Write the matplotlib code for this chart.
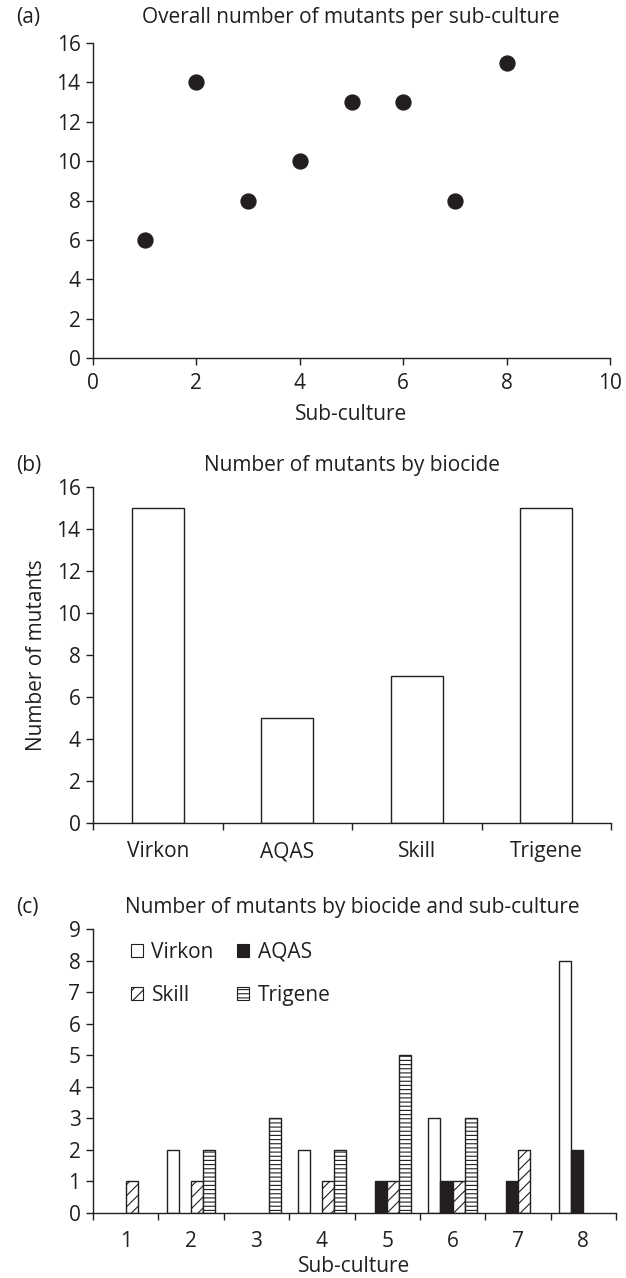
import numpy as np
import matplotlib
matplotlib.use('Agg')
import matplotlib.pyplot as plt
from matplotlib.patches import Patch

plt.rcParams['font.family'] = ['Open Sans', 'DejaVu Sans']
plt.rcParams['font.size'] = 15
plt.rcParams['hatch.linewidth'] = 0.8
INK = '#231f20'

# (a) overall mutants per sub-culture
sub_cultures = [1, 2, 3, 4, 5, 6, 7, 8]
overall_mutants = [6, 14, 8, 10, 13, 13, 8, 15]

# (b) mutants by biocide
biocides = ['Virkon', 'AQAS', 'Skill', 'Trigene']
biocide_totals = [15, 5, 7, 15]

# (c) mutants by biocide and sub-culture
virkon = [0, 2, 0, 2, 0, 3, 0, 8]
aqas = [0, 0, 0, 0, 1, 1, 1, 2]
skill = [1, 1, 0, 1, 1, 1, 2, 0]
trigene = [0, 2, 3, 2, 5, 3, 0, 0]

W, H = 626, 1278
fig = plt.figure(figsize=(W / 100, H / 100), dpi=100)


def px_axes(left, top, right, bottom):
    return fig.add_axes([left / W, 1 - bottom / H, (right - left) / W, (bottom - top) / H])


def style(ax):
    for s in ['top', 'right']:
        ax.spines[s].set_visible(False)
    for s in ['left', 'bottom']:
        ax.spines[s].set_color(INK)
        ax.spines[s].set_linewidth(1.0)
    ax.tick_params(direction='out', length=5, width=1.0, color=INK, labelcolor=INK, pad=4)


# ---- (a)
ax1 = px_axes(93, 43, 610, 358)
style(ax1)
ax1.scatter(sub_cultures, overall_mutants, s=115, color=INK, zorder=3, clip_on=False)
ax1.set_xlim(0, 10)
ax1.set_ylim(0, 16)
ax1.set_xticks(range(0, 11, 2))
ax1.set_yticks(range(0, 17, 2))
ax1.tick_params(axis='x', pad=6)
fig.text(16 / W, 1 - 18 / H, '(a)', ha='left', va='center', color=INK)
fig.text(351 / W, 1 - 18 / H, 'Overall number of mutants per sub-culture', ha='center', va='center', color=INK)
fig.text(351 / W, 1 - 415 / H, 'Sub-culture', ha='center', va='center', color=INK)

# ---- (b)
ax2 = px_axes(93, 487, 611, 823)
style(ax2)
xb = np.arange(len(biocides))
ax2.bar(xb, biocide_totals, width=0.4, facecolor='white', edgecolor=INK, linewidth=1.0)
ax2.set_xlim(-0.5, 3.5)
ax2.set_ylim(0, 16)
ax2.set_yticks(range(0, 17, 2))
ax2.set_xticks(xb)
ax2.set_xticklabels(biocides)
ax2.tick_params(axis='x', which='major', length=0, pad=13)
ax2.set_xticks(np.arange(-0.5, 4, 1), minor=True)
ax2.tick_params(axis='x', which='minor', direction='out', length=5, width=1.0, color=INK)
fig.text(16 / W, 1 - 465 / H, '(b)', ha='left', va='center', color=INK)
fig.text(352 / W, 1 - 465 / H, 'Number of mutants by biocide', ha='center', va='center', color=INK)
fig.text(37 / W, 1 - 655 / H, 'Number of mutants', ha='center', va='center', rotation=90, color=INK)

# ---- (c)
ax3 = px_axes(93, 929, 616, 1213)
style(ax3)
xc = np.array(sub_cultures)
bw = 0.185
series = [
    ('Virkon', virkon, 'white', ''),
    ('AQAS', aqas, INK, ''),
    ('Skill', skill, 'white', '///'),
    ('Trigene', trigene, 'white', '----'),
]
handles = {}
for i, (name, vals, fc, hatch) in enumerate(series):
    vals = np.array(vals)
    keep = vals > 0
    off = (i - 1.5) * bw
    ax3.bar(xc[keep] + off, vals[keep], width=bw, facecolor=fc, edgecolor=INK, hatch=hatch, linewidth=1.0)
    handles[name] = Patch(facecolor=fc, edgecolor=INK, hatch=hatch, linewidth=0.8, label=name)
ax3.set_xlim(0.5, 8.5)
ax3.set_ylim(0, 9)
ax3.set_yticks(range(0, 10))
ax3.set_xticks(xc)
ax3.tick_params(axis='x', which='major', length=0, pad=13)
ax3.set_xticks(np.arange(0.5, 9, 1), minor=True)
ax3.tick_params(axis='x', which='minor', direction='out', length=5, width=1.0, color=INK)
# ncol=2 fills column-wise, so order gives Virkon/AQAS on row one
leg = ax3.legend(handles=[handles['Virkon'], handles['Skill'], handles['AQAS'], handles['Trigene']],
                 ncol=2, frameon=False, loc='upper left', borderpad=0, borderaxespad=0,
                 bbox_to_anchor=(0.072, 0.955), handlelength=0.6, handleheight=0.6,
                 handletextpad=0.4, columnspacing=1.1, labelspacing=1.05)
for t in leg.get_texts():
    t.set_color(INK)
fig.text(16 / W, 1 - 908 / H, '(c)', ha='left', va='center', color=INK)
fig.text(352 / W, 1 - 908 / H, 'Number of mutants by biocide and sub-culture', ha='center', va='center', color=INK)
fig.text(354 / W, 1 - 1267 / H, 'Sub-culture', ha='center', va='center', color=INK)

fig.savefig('out.png', dpi=100)
